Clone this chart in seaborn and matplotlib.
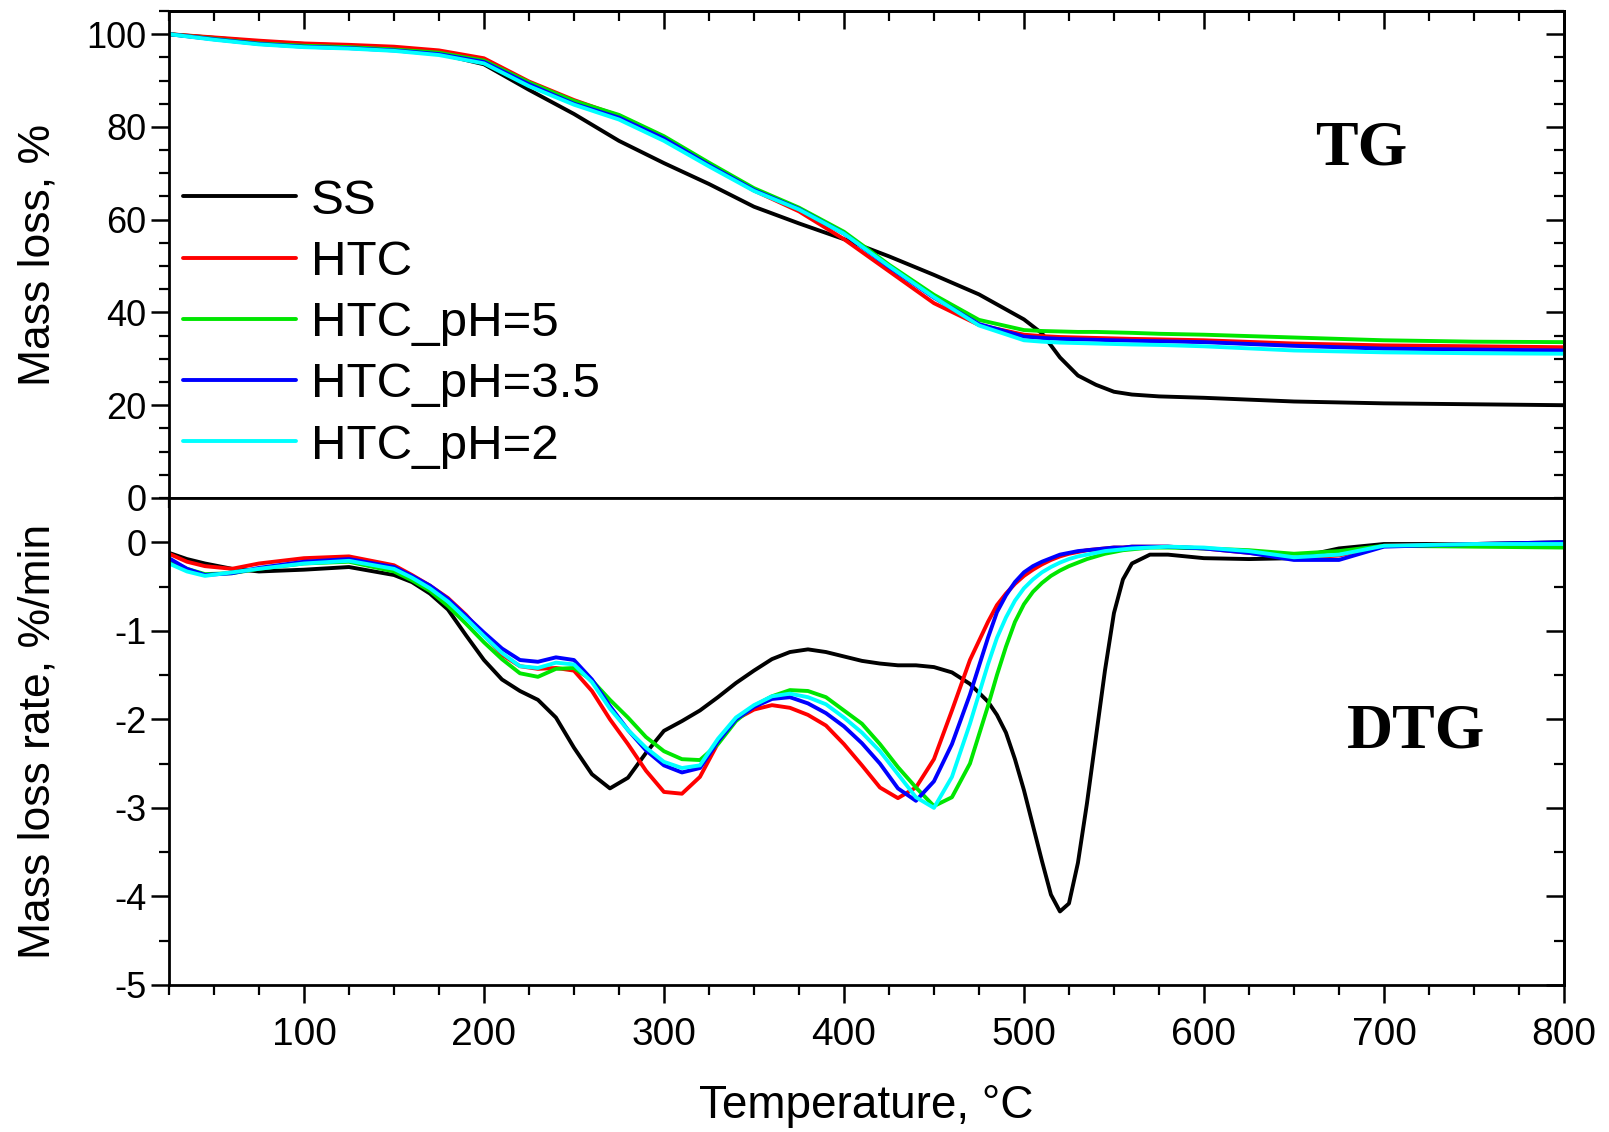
import numpy as np
import pandas as pd
import matplotlib
matplotlib.use("Agg")
import matplotlib.pyplot as plt
from matplotlib.ticker import MultipleLocator
import seaborn as sns

# ---- data ----
samples = ["SS", "HTC", "HTC_pH=5", "HTC_pH=3.5", "HTC_pH=2"]
colors = ["#000000", "#ff0000", "#00e600", "#0000ff", "#00ffff"]

# TG (mass loss, %)
tg_temp = [25, 50, 75, 100, 125, 150, 175, 200, 225, 250, 275, 300, 325, 350, 375, 400,
           425, 450, 475, 500, 510, 520, 530, 540, 550, 560, 575, 600, 650, 700, 750, 800]
tg_ss = [100, 99.2, 98.4, 97.9, 97.5, 96.9, 95.8, 93.5, 88.0, 82.8, 77.0, 72.2, 67.7, 62.8, 59.2, 55.8,
         52.1, 48.1, 43.9, 38.5, 35.5, 30.3, 26.4, 24.4, 22.9, 22.3, 21.9, 21.6, 20.8, 20.4, 20.2, 20.0]
tg_htc = [100, 99.3, 98.6, 98.0, 97.7, 97.3, 96.5, 94.8, 89.8, 85.8, 82.4, 77.8, 72.0, 66.3, 61.8, 55.8,
          48.9, 42.0, 37.3, 35.2, 34.9, 34.7, 34.6, 34.5, 34.4, 34.3, 34.2, 34.0, 33.3, 32.9, 32.7, 32.5]
tg_ph5 = [100, 99.0, 98.0, 97.5, 97.2, 96.7, 96.0, 94.3, 89.6, 85.6, 82.6, 78.0, 72.3, 66.8, 62.6, 57.4,
          50.3, 43.8, 38.4, 36.2, 36.0, 35.9, 35.8, 35.8, 35.7, 35.6, 35.4, 35.2, 34.6, 34.0, 33.7, 33.6]
tg_ph35 = [100, 98.9, 97.9, 97.3, 97.0, 96.5, 95.7, 94.0, 89.2, 85.0, 82.0, 77.5, 71.8, 66.4, 62.3, 57.0,
           49.8, 43.2, 37.5, 34.8, 34.5, 34.3, 34.2, 34.1, 34.0, 33.9, 33.8, 33.6, 32.8, 32.2, 32.0, 31.8]
tg_ph2 = [100, 98.8, 97.8, 97.2, 96.9, 96.4, 95.5, 93.7, 88.8, 84.8, 81.6, 77.0, 71.5, 66.2, 62.2, 57.0,
          50.0, 43.3, 37.2, 34.0, 33.7, 33.5, 33.4, 33.3, 33.2, 33.1, 33.0, 32.7, 31.8, 31.4, 31.2, 31.1]

# DTG (mass loss rate, %/min)
dtg_temp = [25, 35, 45, 60, 75, 100, 125, 150,
            160, 170, 180, 190, 200, 210, 220, 230, 240, 250, 260, 270, 280, 290, 300, 310, 320,
            330, 340, 350, 360, 370, 380, 390, 400, 410, 420, 430, 440, 450, 460, 470, 480,
            485, 490, 495, 500, 505, 510, 515, 520, 525, 530, 535, 540, 545, 550, 555, 560,
            570, 580, 600, 625, 650, 675, 700, 750, 800]
dtg_ss = [-0.12, -0.19, -0.24, -0.30, -0.33, -0.31, -0.28, -0.37,
          -0.45, -0.58, -0.76, -1.05, -1.33, -1.55, -1.68, -1.78, -1.98, -2.32, -2.62, -2.78, -2.66,
          -2.38, -2.13, -2.02, -1.90, -1.75, -1.59, -1.45, -1.32, -1.24, -1.21, -1.24, -1.29, -1.34,
          -1.37, -1.39, -1.39, -1.41, -1.47, -1.60, -1.80,
          -1.95, -2.15, -2.45, -2.80, -3.20, -3.60, -3.98, -4.17, -4.08, -3.62, -2.95, -2.20, -1.45,
          -0.80, -0.42, -0.24,
          -0.14, -0.14, -0.18, -0.19, -0.18, -0.07, -0.02, -0.02, 0.00]
dtg_htc = [-0.13, -0.22, -0.27, -0.30, -0.24, -0.18, -0.16, -0.26,
           -0.37, -0.49, -0.63, -0.82, -1.05, -1.27, -1.40, -1.43, -1.42, -1.45, -1.68, -2.00, -2.28,
           -2.58, -2.82, -2.84, -2.65, -2.27, -2.00, -1.89, -1.84, -1.87, -1.95, -2.07, -2.28, -2.52,
           -2.77, -2.89, -2.77, -2.45, -1.90, -1.33, -0.90,
           -0.71, -0.58, -0.47, -0.38, -0.31, -0.25, -0.20, -0.16, -0.13, -0.11, -0.09, -0.08, -0.07,
           -0.06, -0.06, -0.05,
           -0.05, -0.05, -0.07, -0.12, -0.18, -0.15, -0.04, -0.02, -0.03]
dtg_ph5 = [-0.20, -0.30, -0.36, -0.35, -0.30, -0.24, -0.22, -0.33,
           -0.43, -0.55, -0.72, -0.92, -1.13, -1.32, -1.48, -1.52, -1.43, -1.42, -1.56, -1.78, -1.98,
           -2.20, -2.36, -2.45, -2.46, -2.28, -2.02, -1.85, -1.74, -1.67, -1.68, -1.75, -1.90, -2.05,
           -2.28, -2.54, -2.77, -2.98, -2.88, -2.50, -1.85,
           -1.50, -1.18, -0.90, -0.70, -0.56, -0.46, -0.38, -0.32, -0.27, -0.23, -0.19, -0.16, -0.13,
           -0.11, -0.09, -0.08,
           -0.06, -0.06, -0.07, -0.09, -0.13, -0.10, -0.04, -0.05, -0.06]
dtg_ph35 = [-0.18, -0.30, -0.37, -0.35, -0.29, -0.22, -0.19, -0.28,
            -0.38, -0.49, -0.64, -0.83, -1.02, -1.20, -1.33, -1.35, -1.30, -1.33, -1.55, -1.85, -2.12,
            -2.35, -2.52, -2.60, -2.55, -2.25, -2.00, -1.86, -1.77, -1.75, -1.82, -1.93, -2.08, -2.27,
            -2.50, -2.78, -2.92, -2.70, -2.28, -1.72, -1.08,
            -0.79, -0.60, -0.45, -0.34, -0.27, -0.22, -0.18, -0.14, -0.12, -0.10, -0.09, -0.08, -0.07,
            -0.06, -0.06, -0.05,
            -0.05, -0.05, -0.07, -0.12, -0.20, -0.20, -0.05, -0.02, 0.00]
dtg_ph2 = [-0.24, -0.33, -0.38, -0.34, -0.30, -0.24, -0.21, -0.30,
           -0.40, -0.52, -0.67, -0.86, -1.06, -1.25, -1.40, -1.42, -1.36, -1.38, -1.58, -1.88, -2.12,
           -2.32, -2.48, -2.55, -2.52, -2.22, -1.98, -1.84, -1.74, -1.71, -1.75, -1.83, -1.98, -2.15,
           -2.36, -2.62, -2.88, -3.00, -2.65, -2.05, -1.38,
           -1.08, -0.85, -0.66, -0.52, -0.42, -0.34, -0.28, -0.23, -0.19, -0.16, -0.14, -0.12, -0.10,
           -0.09, -0.08, -0.07,
           -0.06, -0.05, -0.06, -0.10, -0.17, -0.14, -0.04, -0.02, -0.02]


def long_frame(temp, series):
    rows = []
    for name, vals in zip(samples, series):
        rows.append(pd.DataFrame({"T": temp, "value": vals, "sample": name}))
    return pd.concat(rows, ignore_index=True)


tg_df = long_frame(tg_temp, [tg_ss, tg_htc, tg_ph5, tg_ph35, tg_ph2])
dtg_df = long_frame(dtg_temp, [dtg_ss, dtg_htc, dtg_ph5, dtg_ph35, dtg_ph2])

sns.set_style("ticks")
plt.rcParams["font.family"] = ["Liberation Sans", "DejaVu Sans"]
plt.rcParams["axes.unicode_minus"] = False
plt.rcParams["text.color"] = "black"
plt.rcParams["axes.labelcolor"] = "black"
plt.rcParams["xtick.color"] = "black"
plt.rcParams["ytick.color"] = "black"

fig = plt.figure(figsize=(16.09, 11.32), dpi=100)
ax1 = fig.add_axes([0.105, 0.5601, 0.867, 0.4302])
ax2 = fig.add_axes([0.105, 0.1299, 0.867, 0.4302])

lw = 2.8
for ax, df in [(ax1, tg_df), (ax2, dtg_df)]:
    sns.lineplot(data=df, x="T", y="value", hue="sample", hue_order=samples,
                 palette=colors, estimator=None, sort=False, linewidth=lw,
                 legend=False, ax=ax)
    for ln in ax.get_lines():
        ln.set_solid_joinstyle("round")
        ln.set_solid_capstyle("round")

tick_major = dict(length=13, width=1.8, color="black")
tick_minor = dict(length=7, width=1.6, color="black")

for ax in (ax1, ax2):
    for sp in ax.spines.values():
        sp.set_visible(True)
        sp.set_linewidth(2.0)
        sp.set_color("black")
    ax.set_xlim(25, 800)
    ax.xaxis.set_major_locator(MultipleLocator(100))
    ax.xaxis.set_minor_locator(MultipleLocator(25))
    ax.tick_params(which="major", direction="out", labelsize=26, pad=3,
                   labelcolor="black", **tick_major)
    ax.tick_params(which="minor", direction="out", **tick_minor)
    ax.tick_params(axis="both", which="both", top=False, right=False, left=True, bottom=True)
    ax.set_xlabel("")
    ax.grid(False)
    # right side ticks point inward
    sec = ax.secondary_yaxis("right")
    sec.tick_params(which="major", direction="in", labelright=False, **tick_major)
    sec.tick_params(which="minor", direction="in", **tick_minor)
    sec.spines["right"].set_linewidth(2.0)
    sec.spines["right"].set_color("black")

# top panel
ax1.set_ylim(0, 105)
ax1.yaxis.set_major_locator(MultipleLocator(20))
ax1.yaxis.set_minor_locator(MultipleLocator(5))
ax1.tick_params(axis="x", labelbottom=False)
ax1.set_ylabel("Mass loss, %", fontsize=32, color="black")
ax1.yaxis.set_label_coords(-0.079, 0.5)
for c in ax1.child_axes:
    c.yaxis.set_major_locator(MultipleLocator(20))
    c.yaxis.set_minor_locator(MultipleLocator(5))
top = ax1.secondary_xaxis("top")
top.xaxis.set_major_locator(MultipleLocator(100))
top.xaxis.set_minor_locator(MultipleLocator(25))
top.tick_params(which="major", direction="in", labeltop=False, **tick_major)
top.tick_params(which="minor", direction="in", **tick_minor)
top.spines["top"].set_linewidth(2.0)
top.spines["top"].set_color("black")

# bottom panel
ax2.set_ylim(-5, 0.5)
ax2.yaxis.set_major_locator(MultipleLocator(1))
ax2.yaxis.set_minor_locator(MultipleLocator(0.5))
for c in ax2.child_axes:
    c.yaxis.set_major_locator(MultipleLocator(1))
    c.yaxis.set_minor_locator(MultipleLocator(0.5))
ax2.tick_params(axis="x", which="major", pad=10, labelsize=28)
ax2.set_ylabel("Mass loss rate, %/min", fontsize=32, color="black")
ax2.yaxis.set_label_coords(-0.079, 0.5)
ax2.set_xlabel("Temperature, \u00b0C", fontsize=33, color="black")
ax2.xaxis.set_label_coords(0.5, -0.203)

# legend in the TG panel
handles = ax1.get_lines()[:len(samples)]
ax1.legend(handles, samples, loc="upper left", bbox_to_anchor=(0.010, 0.656),
           frameon=False, fontsize=35.5, handlelength=2.3, handletextpad=0.3,
           labelspacing=0.33, borderpad=0, borderaxespad=0)

# panel tags
ax1.text(0.855, 0.684, "TG", transform=ax1.transAxes, ha="center", va="baseline",
         fontsize=46, fontweight="bold", family=["Liberation Serif", "DejaVu Serif"])
ax2.text(0.894, 0.487, "DTG", transform=ax2.transAxes, ha="center", va="baseline",
         fontsize=46, fontweight="bold", family=["Liberation Serif", "DejaVu Serif"])

fig.savefig("out.png", dpi=100)
